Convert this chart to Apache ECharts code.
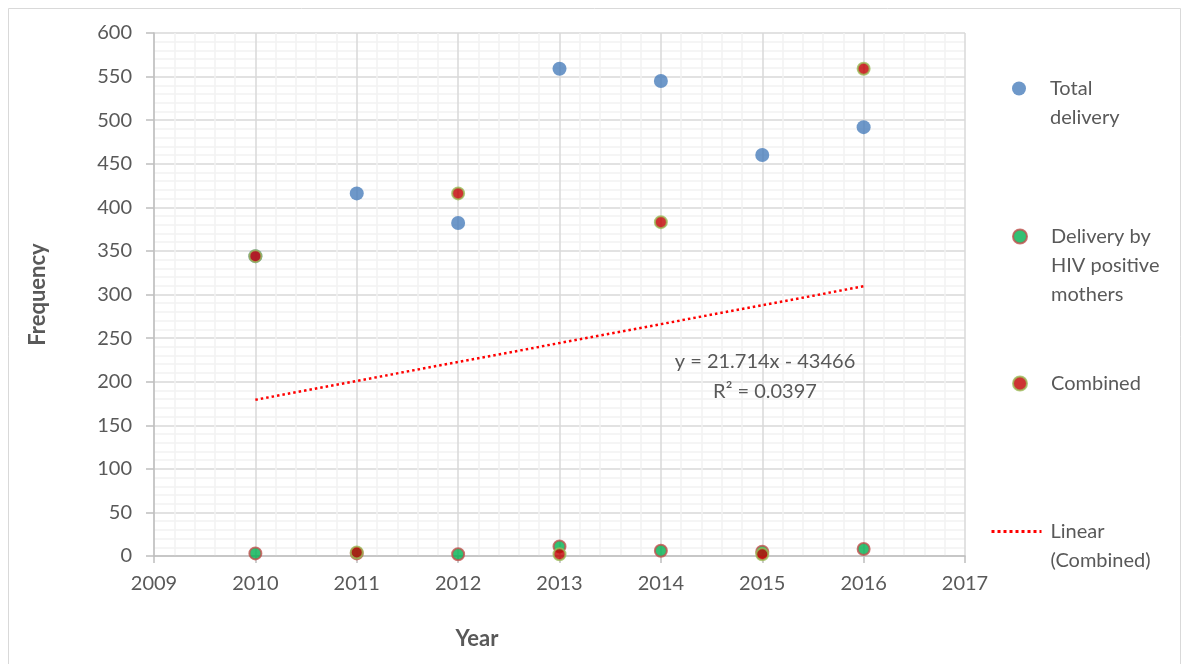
<!DOCTYPE html>
<html>
<head>
<meta charset="utf-8">
<script src="https://cdn.jsdelivr.net/npm/echarts@6/dist/echarts.min.js"></script>
<style>
  html, body { margin: 0; padding: 0; background: #fff; }
  #chart { width: 1182px; height: 664px; }
</style>
</head>
<body>
<div id="chart"></div>
<script>
// Yearly delivery counts
const years = [2010, 2011, 2012, 2013, 2014, 2015, 2016];
const totalDelivery = [344, 416, 382, 559, 545, 460, 492];
const hivDelivery = [3, 3, 2, 11, 6, 5, 8];
const combined = [344, 4, 416, 2, 383, 2, 559];

// Linear trend of the combined series
const trendSlope = 21.714;
const trendIntercept = -43466;
const trendYears = [2010, 2016];
const trendEquation = 'y = 21.714x - 43466';
const trendR2 = 'R² = 0.0397';

const FONT = 'Lato';
const TEXT = '#595959';

const pairs = (xs, ys) => xs.map((x, i) => [x, ys[i]]);
const trendData = trendYears.map(x => [x, trendSlope * x + trendIntercept]);

const chart = echarts.init(document.getElementById('chart'), null, { renderer: 'canvas' });

const legendBase = {
  orient: 'vertical',
  left: 1007,
  itemWidth: 14,
  itemHeight: 14,
  textStyle: { fontFamily: FONT, fontSize: 20, color: TEXT, lineHeight: 29, padding: [0, 0, 0, 19] },
  selectedMode: false
};

chart.setOption({
  backgroundColor: '#ffffff',
  animation: false,
  textStyle: { fontFamily: FONT },
  grid: { left: 154, top: 33, width: 811, height: 523, containLabel: false },
  xAxis: {
    type: 'value',
    min: 2009,
    max: 2017,
    interval: 1,
    name: 'Year',
    nameLocation: 'middle',
    nameGap: 72,
    nameTextStyle: { fontFamily: FONT, fontSize: 22, fontWeight: 'bold', color: TEXT, padding: [0, 165, 0, 0] },
    axisLine: { show: true, lineStyle: { color: '#bfbfbf', width: 1.5 } },
    axisTick: { show: true, length: 7, lineStyle: { color: '#bfbfbf', width: 1.5 } },
    axisLabel: { fontFamily: FONT, fontSize: 20, color: TEXT, margin: 18, formatter: v => String(v) },
    splitLine: { show: true, lineStyle: { color: '#d9d9d9', width: 1.5 } },
    minorTick: { show: false, splitNumber: 5 },
    minorSplitLine: { show: true, lineStyle: { color: '#f2f2f2', width: 1.5 } }
  },
  yAxis: {
    type: 'value',
    min: 0,
    max: 600,
    interval: 50,
    name: 'Frequency',
    nameLocation: 'middle',
    nameGap: 105,
    nameTextStyle: { fontFamily: FONT, fontSize: 22, fontWeight: 'bold', color: TEXT },
    axisLine: { show: true, lineStyle: { color: '#bfbfbf', width: 1.5 } },
    axisTick: { show: true, length: 8, lineStyle: { color: '#bfbfbf', width: 1.5 } },
    axisLabel: { fontFamily: FONT, fontSize: 20, color: TEXT, margin: 22 },
    splitLine: { show: true, lineStyle: { color: '#d9d9d9', width: 1.5 } },
    minorTick: { show: false, splitNumber: 5 },
    minorSplitLine: { show: true, lineStyle: { color: '#f2f2f2', width: 1.5 } }
  },
  legend: [
    Object.assign({}, legendBase, { top: 40, data: [{ name: 'Total delivery', icon: 'circle' }],
      formatter: () => '\nTotal\ndelivery' }),
    Object.assign({}, legendBase, { top: 159, data: [{ name: 'Delivery by HIV positive mothers', icon: 'circle' }],
      formatter: () => '\n\nDelivery by\nHIV positive\nmothers' }),
    Object.assign({}, legendBase, { top: 364, data: [{ name: 'Combined', icon: 'circle' }],
      formatter: () => 'Combined' }),
    Object.assign({}, legendBase, { left: 985, top: 483, itemWidth: 50,
      textStyle: Object.assign({}, legendBase.textStyle, { padding: [0, 0, 0, 4] }),
      data: [{ name: 'Linear (Combined)', itemStyle: { opacity: 0 } }],
      lineStyle: { color: '#ff0000', width: 3, type: [3, 3] },
      formatter: () => '\nLinear\n(Combined)' })
  ],
  graphic: [
    { type: 'rect', silent: true, z: -1,
      shape: { x: 8.5, y: 8.5, width: 1172, height: 720 },
      style: { fill: 'none', stroke: '#d9d9d9', lineWidth: 1 } },
    { type: 'text', silent: true, z: 10,
      style: { x: 765, y: 362, text: trendEquation, align: 'center', verticalAlign: 'middle',
        font: '20px ' + FONT, fill: TEXT } },
    { type: 'text', silent: true, z: 10,
      style: { x: 765, y: 392, text: trendR2, align: 'center', verticalAlign: 'middle',
        font: '20px ' + FONT, fill: TEXT } }
  ],
  series: [
    {
      name: 'Total delivery',
      type: 'scatter',
      data: pairs(years, totalDelivery),
      symbol: 'circle',
      symbolSize: 14,
      itemStyle: { color: '#4a7ebb' },
      z: 2
    },
    {
      name: 'Delivery by HIV positive mothers',
      type: 'scatter',
      data: pairs(years, hivDelivery),
      symbol: 'circle',
      symbolSize: 12,
      itemStyle: { color: '#00b050', borderColor: '#c0504d', borderWidth: 2 },
      z: 3
    },
    {
      name: 'Combined',
      type: 'scatter',
      data: pairs(years, combined),
      symbol: 'circle',
      symbolSize: 12,
      itemStyle: { color: '#c00000', borderColor: '#9bbb59', borderWidth: 2 },
      z: 4
    },
    {
      name: 'Linear (Combined)',
      type: 'line',
      data: trendData,
      showSymbol: false,
      symbol: 'none',
      lineStyle: { color: '#ff0000', width: 2.5, type: [2.5, 3] },
      itemStyle: { color: '#ff0000' },
      z: 5
    }
  ]
});
</script>
</body>
</html>
